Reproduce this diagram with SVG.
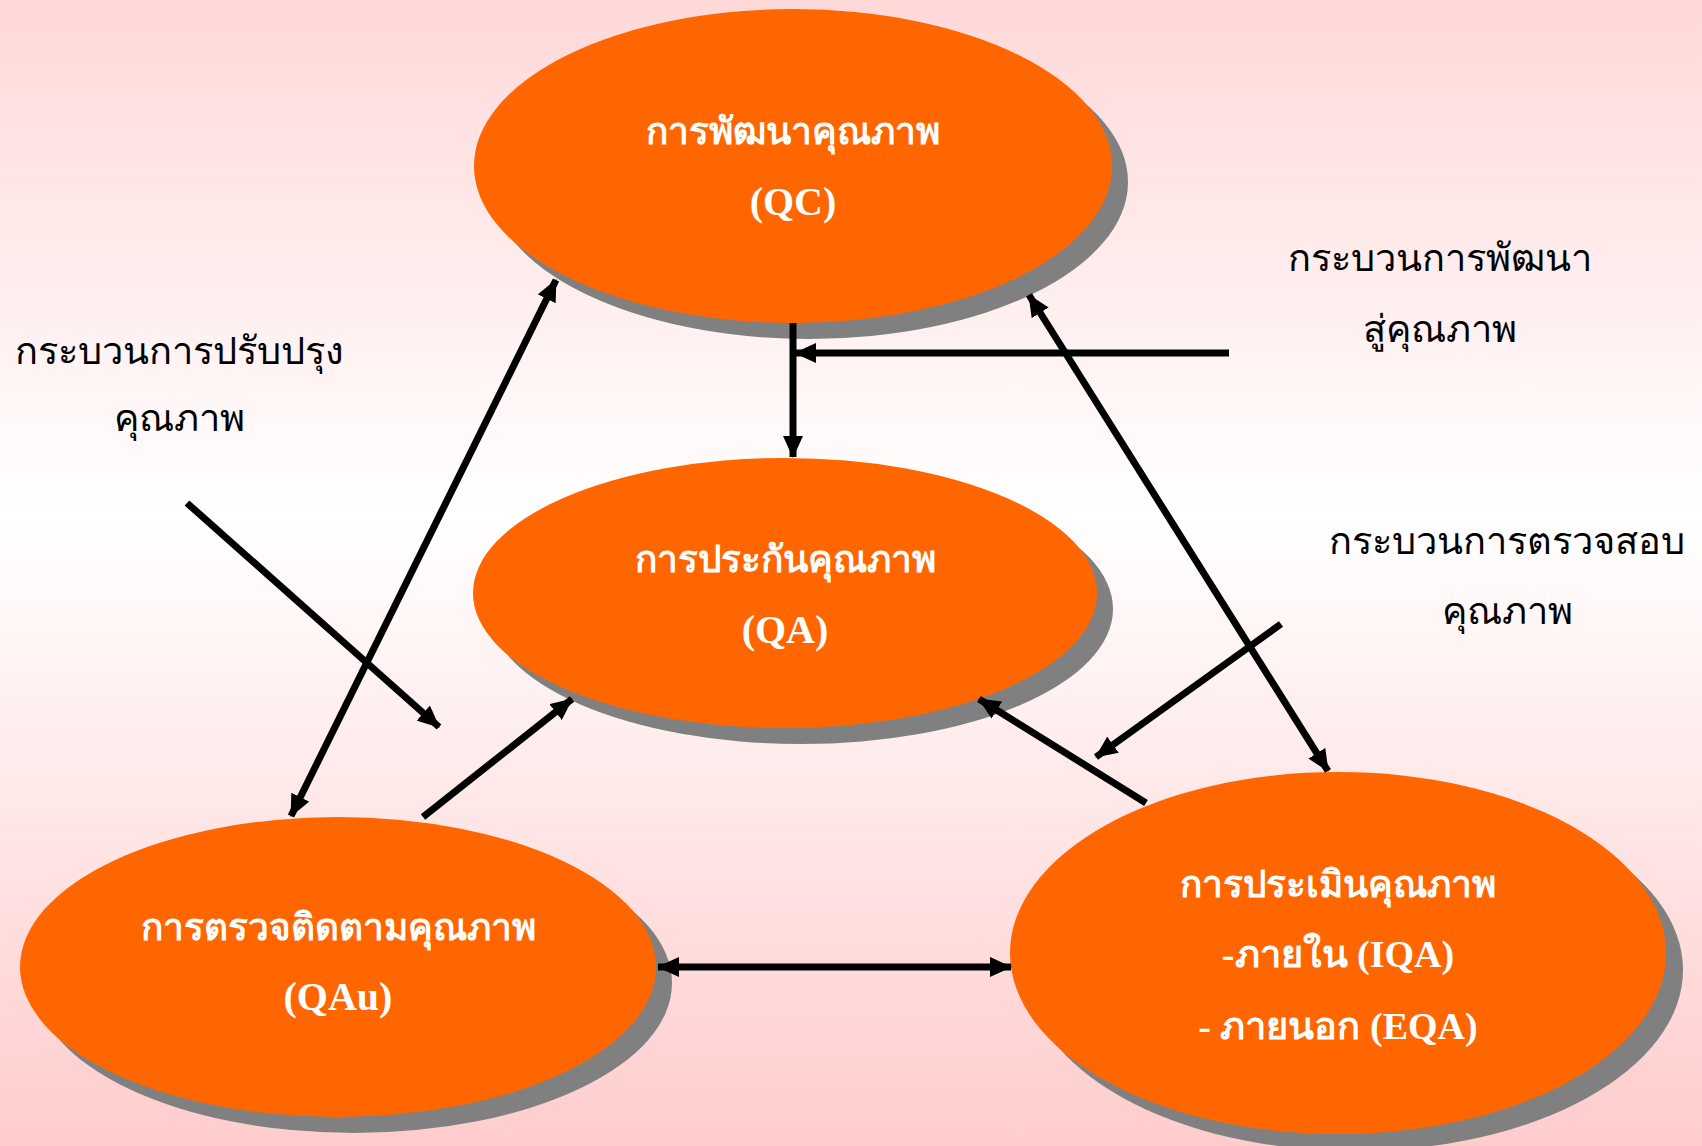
<svg xmlns="http://www.w3.org/2000/svg" width="1702" height="1146" viewBox="0 0 1702 1146">
<defs>
<linearGradient id="bg" x1="0" y1="0" x2="0" y2="1">
<stop offset="0" stop-color="#FFD8D8"/>
<stop offset="0.45" stop-color="#FFFFFF"/>
<stop offset="1" stop-color="#FFCCCC"/>
</linearGradient>
<marker id="ah" markerUnits="userSpaceOnUse" markerWidth="22" markerHeight="20" refX="21" refY="10" orient="auto-start-reverse" viewBox="0 0 22 20">
<path d="M0,0 L22,10 L0,20 z" fill="#000"/>
</marker>
<style>
.sh{fill:#808080}
.nd{fill:#FF6600}
.nt{fill:#FFFFFF;font-family:"Liberation Serif",serif;font-weight:bold;font-size:37px;text-anchor:middle}
.la{font-size:40px}
.mx{font-size:38px}
.lb{fill:#000;font-family:"Liberation Serif",serif;font-size:38px;text-anchor:middle}
.cn{stroke:#000;stroke-width:7;fill:none}
</style>
</defs>
<rect x="0" y="0" width="1702" height="1146" fill="url(#bg)"/>
<g id="labels">
<text class="lb" x="1440" y="271">กระบวนการพัฒนา</text>
<text class="lb" x="1440" y="342">สู่คุณภาพ</text>
<text class="lb" x="179" y="364">กระบวนการปรับปรุง</text>
<text class="lb" x="179" y="431">คุณภาพ</text>
<text class="lb" x="1507" y="554">กระบวนการตรวจสอบ</text>
<text class="lb" x="1507" y="624">คุณภาพ</text>
</g>
<g id="qc">
<ellipse class="sh" cx="809" cy="182" rx="319" ry="157"/>
<ellipse class="nd" cx="793" cy="166" rx="319" ry="157"/>
<text class="nt" x="793" y="144">การพัฒนาคุณภาพ</text>
<text class="nt la" x="793" y="215">(QC)</text>
</g>
<g id="qa">
<ellipse class="sh" cx="801" cy="609" rx="312" ry="135"/>
<ellipse class="nd" cx="785" cy="593" rx="312" ry="135"/>
<text class="nt" x="785" y="572">การประกันคุณภาพ</text>
<text class="nt la" x="785" y="643">(QA)</text>
</g>
<g id="qau">
<ellipse class="sh" cx="354" cy="983" rx="318" ry="150"/>
<ellipse class="nd" cx="338" cy="967" rx="318" ry="150"/>
<text class="nt" x="338" y="940">การตรวจติดตามคุณภาพ</text>
<text class="nt la" x="338" y="1010">(QAu)</text>
</g>
<g id="eval">
<ellipse class="sh" cx="1355" cy="970" rx="328" ry="181"/>
<ellipse class="nd" cx="1338" cy="953" rx="328" ry="181"/>
<text class="nt" x="1338" y="897">การประเมินคุณภาพ</text>
<text class="nt mx" x="1338" y="967">-ภายใน (IQA)</text>
<text class="nt mx" x="1338" y="1039">- ภายนอก (EQA)</text>
</g>
<g id="connectors">
<line class="cn" x1="793" y1="323" x2="793" y2="457" marker-end="url(#ah)"/>
<line class="cn" x1="1229" y1="353" x2="795" y2="353" marker-end="url(#ah)"/>
<line class="cn" x1="556" y1="280" x2="291" y2="816" marker-start="url(#ah)" marker-end="url(#ah)"/>
<line class="cn" x1="187" y1="503" x2="439" y2="727" marker-end="url(#ah)"/>
<line class="cn" x1="423" y1="817" x2="572" y2="699" marker-end="url(#ah)"/>
<line class="cn" x1="1029" y1="295" x2="1328" y2="771" marker-start="url(#ah)" marker-end="url(#ah)"/>
<line class="cn" x1="1281" y1="624" x2="1096" y2="757" marker-end="url(#ah)"/>
<line class="cn" x1="1146" y1="803" x2="979" y2="699" marker-end="url(#ah)"/>
<line class="cn" x1="658" y1="967" x2="1011" y2="967" marker-start="url(#ah)" marker-end="url(#ah)"/>
</g>
</svg>
